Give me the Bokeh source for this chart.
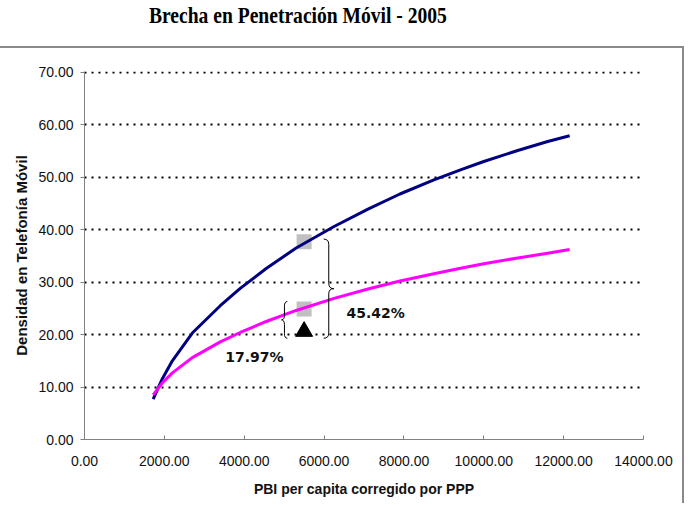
from bokeh.plotting import figure
from bokeh.models import Div, FixedTicker, NumeralTickFormatter, Range1d, ColumnDataSource
from bokeh.layouts import column
from bokeh.core.properties import value
from bokeh.embed import file_html
from bokeh.resources import INLINE

# GDP per capita (PPP) and mobile density for the two fitted curves
pbi_pc = [1720, 1950, 2200, 2700, 3400, 3900, 4550, 5300, 6250, 7100, 7900, 8750, 9450, 10000, 10850, 11600, 12150]
densidad_alta = [7.7, 11.6, 15.0, 20.3, 25.5, 28.8, 32.6, 36.5, 40.6, 43.9, 46.8, 49.5, 51.5, 53.0, 55.1, 56.8, 57.9]
densidad_baja = [8.5, 10.8, 12.7, 15.6, 18.6, 20.4, 22.5, 24.6, 26.9, 28.7, 30.2, 31.6, 32.7, 33.5, 34.6, 35.5, 36.2]

# highlighted country
pais_pbi = 5500
pais_alta = 37.7
pais_baja = 24.9
pais_real = 20.6

brecha_total = "45.42%"
brecha_parcial = "17.97%"

x_ticks = [0, 2000, 4000, 6000, 8000, 10000, 12000, 14000]
y_ticks = [0, 10, 20, 30, 40, 50, 60, 70]

titulo = "Brecha en Penetración Móvil - 2005"
title = Div(
    text=('<span style="display:inline-block; white-space:nowrap; '
          'transform:scaleX(0.815); transform-origin:0 0">' + titulo + '</span>'),
    width=690, height=46, margin=(0, 0, 0, 0),
    styles={"font-family": "Liberation Serif", "font-weight": "bold",
            "font-size": "24px", "color": "#000", "padding-left": "149px",
            "line-height": "24px", "padding-top": "3px"},
)

p = figure(
    frame_width=557, frame_height=366,
    min_border_left=84, min_border_right=41, min_border_top=23, min_border_bottom=66,
    x_range=Range1d(0, 14000), y_range=Range1d(0, 70.15),
    output_backend="svg", toolbar_location=None,
    background_fill_color="white", border_fill_color="white",
    margin=(0, 0, 0, 0),
    styles={"border-top": "2px solid #8a8a8a", "border-right": "2px solid #8a8a8a"},
)
p.outline_line_color = None

# axes
for ax in (p.xaxis[0], p.yaxis[0]):
    ax.axis_line_color = "#808080"
    ax.major_tick_line_color = "#808080"
    ax.minor_tick_line_color = None
    ax.major_label_text_font = "Liberation Sans"
    ax.major_label_text_font_size = "14px"
    ax.major_label_text_color = "#111"
    ax.formatter = NumeralTickFormatter(format="0.00")
    ax.axis_label_text_font = "Liberation Sans"
    ax.axis_label_text_font_style = "bold"
    ax.axis_label_text_color = "#111"

p.xaxis.ticker = FixedTicker(ticks=x_ticks)
p.yaxis.ticker = FixedTicker(ticks=y_ticks)
p.xaxis.major_tick_in = 4
p.xaxis.major_tick_out = 0
p.xaxis.major_label_standoff = 16
p.xaxis.axis_label = "PBI per capita corregido por PPP"
p.xaxis.axis_label_text_font_size = "14px"
p.xaxis.axis_label_standoff = 12

p.yaxis.major_tick_in = 0
p.yaxis.major_tick_out = 4
p.yaxis.major_label_standoff = 7
p.yaxis.axis_label = "Densidad en Telefonía Móvil"
p.yaxis.axis_label_text_font_size = "15px"
p.yaxis.axis_label_standoff = 5

# dotted horizontal gridlines
p.xgrid.grid_line_color = None
p.ygrid.ticker = FixedTicker(ticks=y_ticks[1:])
p.ygrid.grid_line_color = "black"
p.ygrid.grid_line_dash = "2 5"
p.ygrid.grid_line_width = 2

# markers for the highlighted country
p.scatter([pais_pbi, pais_pbi], [pais_alta, pais_baja], marker="square",
          size=15, fill_color="#c0c0c0", line_color=None)

src = ColumnDataSource(dict(x=pbi_pc, alta=densidad_alta, baja=densidad_baja))
p.line("x", "alta", source=src, line_color="#000080", line_width=3, line_join="round")
p.line("x", "baja", source=src, line_color="#ff00ff", line_width=3, line_join="round")

p.scatter([pais_pbi], [pais_real], marker="triangle", size=17,
          fill_color="black", line_color="black")


def brace(x_end, x_tip, y_top, y_bot, r):
    """Curly brace opening toward x_tip, built from quadratic curves and straight segments."""
    x_mid = (x_end + x_tip) / 2
    y_c = (y_top + y_bot) / 2
    q = dict(x0=[x_end, x_mid, x_mid, x_mid],
             y0=[y_top, y_c + r, y_c - r, y_bot + r],
             x1=[x_mid, x_tip, x_tip, x_end],
             y1=[y_top - r, y_c, y_c, y_bot],
             cx=[x_mid, x_mid, x_mid, x_mid],
             cy=[y_top, y_c, y_c, y_bot])
    p.quadratic(x0="x0", y0="y0", x1="x1", y1="y1", cx="cx", cy="cy",
                source=ColumnDataSource(q), line_color="black", line_width=1)
    p.segment(x0=[x_mid, x_mid], y0=[y_top - r, y_c - r],
              x1=[x_mid, x_mid], y1=[y_c + r, y_bot + r],
              line_color="black", line_width=1)


brace(5990, 6245, pais_alta + 0.5, 19.3, 1.0)
brace(5080, 4935, 26.3, 19.3, 0.9)

p.text([7290], [24.1], text=[brecha_total], text_font=value("DejaVu Sans"),
       text_font_style="bold", text_font_size="14px", text_align="center",
       text_baseline="middle", text_color="#111")
p.text([4255], [15.8], text=[brecha_parcial], text_font=value("DejaVu Sans"),
       text_font_style="bold", text_font_size="14px", text_align="center",
       text_baseline="middle", text_color="#111")

layout = column(title, p, spacing=0, margin=(0, 0, 0, 0))
open("out.html", "w").write(file_html(layout, INLINE))
